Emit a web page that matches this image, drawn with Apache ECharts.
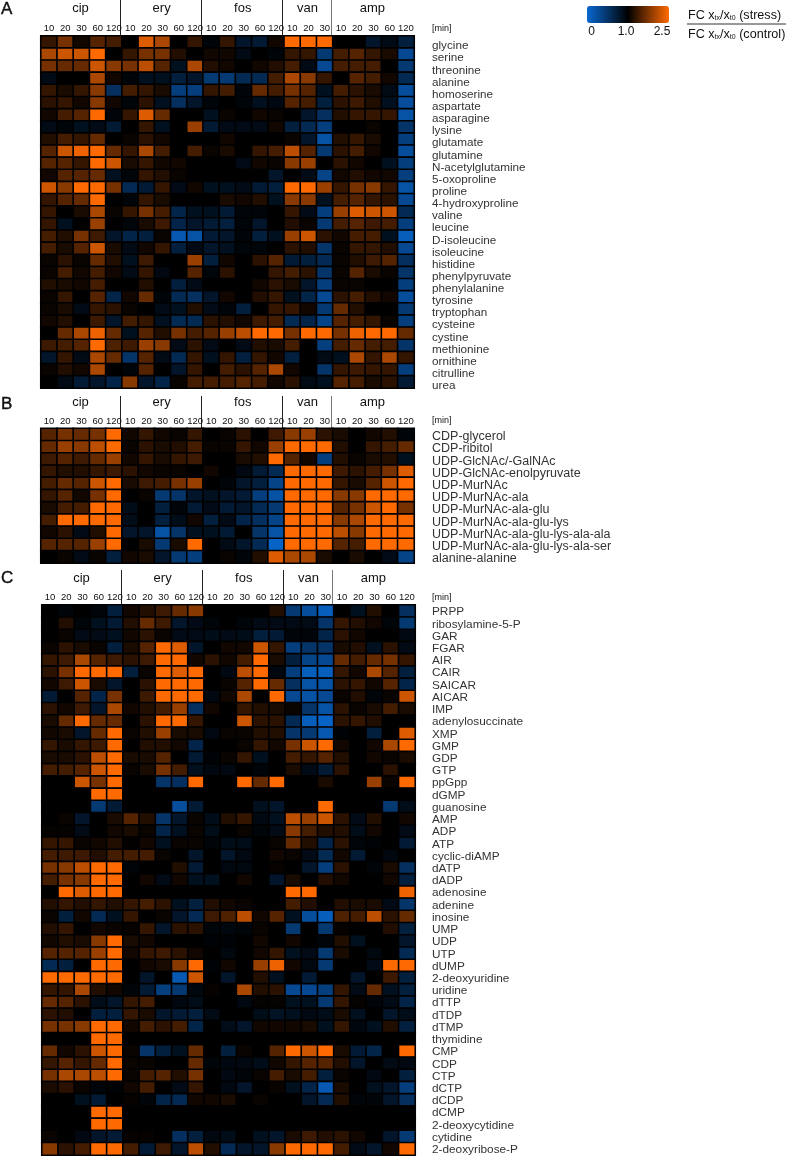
<!DOCTYPE html>
<html>
<head>
<meta charset="utf-8">
<title>heatmap</title>
<script src="https://cdn.jsdelivr.net/npm/echarts@6/dist/echarts.min.js"></script>
<style>
html,body{margin:0;padding:0;background:#fff;}
#chart{width:787px;height:1156px;}
</style>
</head>
<body>
<div id="chart"></div>
<script>
var groups = ['cip','ery','fos','van','amp'];
var groupCols = [5,5,5,3,5];
var minutes = ['10','20','30','60','120','10','20','30','60','120','10','20','30','60','120','10','20','30','10','20','30','60','120'];

var labelsA = ['glycine','serine','threonine','alanine','homoserine','aspartate','asparagine','lysine','glutamate','glutamine','N-acetylglutamine','5-oxoproline','proline','4-hydroxyproline','valine','leucine','D-isoleucine','isoleucine','histidine','phenylpyruvate','phenylalanine','tyrosine','tryptophan','cysteine','cystine','methionine','ornithine','citrulline','urea'];
var labelsB = ['CDP-glycerol','CDP-ribitol','UDP-GlcNAc/-GalNAc','UDP-GlcNAc-enolpyruvate','UDP-MurNAc','UDP-MurNAc-ala','UDP-MurNAc-ala-glu','UDP-MurNAc-ala-glu-lys','UDP-MurNAc-ala-glu-lys-ala-ala','UDP-MurNAc-ala-glu-lys-ala-ser','alanine-alanine'];
var labelsC = ['PRPP','ribosylamine-5-P','GAR','FGAR','AIR','CAIR','SAICAR','AICAR','IMP','adenylosuccinate','XMP','GMP','GDP','GTP','ppGpp','dGMP','guanosine','AMP','ADP','ATP','cyclic-diAMP','dATP','dADP','adenosine','adenine','inosine','UMP','UDP','UTP','dUMP','2-deoxyuridine','uridine','dTTP','dTDP','dTMP','thymidine','CMP','CDP','CTP','dCTP','dCDP','dCMP','2-deoxycytidine','cytidine','2-deoxyribose-P'];

// fold change per row : cip | ery | fos | van | amp
var valuesA = [
[1.3,1.7,1.1,1.5,1.4, 1,2.3,2,1,1.3, .95,1.3,.8,.75,1.1, 2.5,2.5,2.5, 1,1,.8,.9,.7],
[2,2.2,2.2,2.5,1, 1.3,1.7,1.7,1.2,1, 1.1,1.1,.9,1,.95, 1.3,1.3,.45, 1.4,1.5,1.3,1.15,.3],
[1.7,1.6,1.6,2.2,1.8, 1.7,2.1,1.5,.85,2, 1.2,1.1,1,1.1,1.2, 1.4,.9,.3, 1.4,1.4,1.4,1,.45],
[.9,1,1,2,1.1, .95,.85,.85,.7,.8, .45,.45,.6,.6,1.4, 2,1.8,1.3, 1,1.5,1.4,1.1,.6],
[1.3,1.15,1.3,1.8,.55, 1.4,1.3,1.15,.4,.4, 1.3,1.4,.95,1.6,1.4, 1.7,1.5,.85, 1.4,1.25,1.15,.9,.25],
[1.25,1.3,1.1,1.8,1.1, .95,1.25,.85,.55,.8, .95,1,.95,.85,.92, 1.5,1.4,.7, 1.25,1.35,1.2,.85,.25],
[1.1,1.4,1.5,2.5,.95, 1.3,2.3,1.6,1,1, .85,1.05,1,1.1,1.05, 1,.8,.55, 1.2,1.3,1.3,1.3,.2],
[.9,.95,.85,.9,.75, 1,1.3,.85,1,1.9, .75,.9,.9,.9,1.1, .7,.6,.4, 1,1,1.05,1,.5],
[1.2,1.4,1.3,1.6,1, 1.05,1.25,1.1,1,1, 1,1.1,1,1,1, 1.05,.8,.2, 1.2,1.3,1.15,1,.4],
[1.5,2.2,2.4,2.5,1.6, 1.3,2,1.4,1,1.4, 1.05,1.15,1,1.3,1.4, 2.1,1.5,.45, 1.25,1.4,1.1,1,.25],
[1.5,1.5,1.3,2.5,2.2, 1.15,1.3,1.1,1.1,1, 1,1,.9,1.1,1.05, 1.8,1.9,1, 1.25,1.1,1,.85,.4],
[1.1,1.5,1.5,1.6,.85, .95,1.3,1.2,1.05,1, 1,1,1,1,.8, 1,.9,.35, 1.1,1.2,1.1,1.1,.4],
[2.2,1.8,2.5,2.5,1.7, .6,.75,1.3,.9,1.1, .85,.85,.9,.75,.7, 2.5,2.5,1.9, 1.3,1.7,1.8,1.3,.2],
[1.3,1.5,1.6,2.5,1, .95,1.3,1.15,1,1, 1,1.15,1.1,1.2,.85, 1.8,1.8,.85, 1.4,1.5,1.3,1.25,.3],
[1.3,1,1.15,2,1.05, 1.3,1.7,1.4,.65,.85, .85,.75,.95,.95,1, 1.3,.9,.4, 1.9,2.3,2.2,2.2,.6],
[1.3,.85,1,1.9,1, .95,1.15,1.35,.65,.8, .75,.7,.95,.8,1, 1.2,1.05,.45, 1.4,1.5,1.35,1.4,.4],
[1.4,1.2,1.7,1.35,.8, .65,.7,1.05,.15,.2, .75,.8,.95,.7,.85, 1.9,2.2,1.25, 1.1,1.4,1.4,.85,.1],
[1.4,1.15,1.5,2.2,1.15, .9,1.1,1.3,.7,.9, .8,.85,.95,.95,1, 1.25,1.2,.5, 1.05,1.3,1.3,1.2,.3],
[1.05,1.25,1.05,1.6,1.2, .85,1.35,1,1,1.9, .7,1.1,1,1.25,1.5, .75,.7,.6, 1.05,1.2,1.35,1.5,.55],
[1.05,1.4,1.1,1.4,1.1, .9,1.3,.92,1,1.5, .95,1.25,1,1,1.3, 1.4,1.25,.5, 1.05,1.5,1.15,1.05,.5],
[1.2,1.15,1.1,1.4,1, 1,1.2,1,.7,.9, 1,1,1,1.1,1.25, 1.15,.8,.4, 1.05,1.05,1,1,.4],
[1.05,1.3,1,1.5,.65, 1.1,1.6,.95,.6,.55, .8,1.1,1,1.2,1.3, .85,.65,.3, 1.25,1.4,1.2,1.1,.25],
[1.05,1.15,.9,1.3,1.25, 1.05,1,.9,.85,1.2, .9,.95,.7,1,1.3, 1.3,1.1,.45, 1.6,1.2,1,1,.45],
[1.1,1.2,1,1.35,.8, 1.4,1.3,.85,.6,.6, 1.25,1.2,1.1,1.35,1.4, .6,.65,.35, 1.5,1.4,1.3,1.05,.4],
[1,1.6,2,2.4,1.6, .85,1.5,1.2,1.7,1.4, 1.5,1.9,2.1,2.5,2.5, 1.7,2.5,2.5, 1.7,2.4,2.5,2.5,1.6],
[1.35,1.4,1.5,2.5,1.45, 1.35,1.9,1.8,.9,1.25, .9,1,.9,1.2,1.15, 1.4,1,.4, 1.4,1.6,1.4,1.4,.5],
[.8,1.3,.9,2,1.6, .5,1.5,.9,.6,1.3, .85,1.3,.7,1.3,1.1, .7,1,.9, .85,2,1.3,2,1.3],
[1.05,1.2,1.1,2,1, .95,1.5,1,.8,1.3, 1,1.4,1.25,1.5,2, 1.1,1,.5, 1.3,1.35,1.3,1.3,.4],
[1,.9,.75,.8,.65, 1.8,.8,.65,1.05,1.4, 1.4,1.4,1.5,1.4,1.1, 1.25,.9,.85, 1.5,1.4,1.15,1.25,.75]
];
var valuesB = [
[1.5,1.7,1.6,1.7,2.5, 1.1,1.3,1.1,1.05,1.3, 1,1.05,1.25,1,1.35, 1.8,1.9,1.25, 1.15,1,1.1,1.2,.95],
[1.6,1.9,1.8,2.1,2.5, 1.05,1.25,1.15,1.2,1.4, 1.05,1.05,1.3,1.1,1.9, 2.5,2.5,2.5, 1.2,1,1.3,1.4,1.6],
[1.35,1.5,1.35,1.6,1.9, 1.1,1.3,1.15,1.3,1.35, 1,1,1.15,1.2,2.5, 1.5,1.1,.4, 1.2,1.05,1.15,1.2,.85],
[1.3,1.2,1.2,1.3,1.35, 1.25,1.1,1.05,1.05,1, 1.1,1,.92,.75,.6, 2.5,2.5,2.5, 1.35,1.25,1.4,1.7,2.3],
[1.4,1.6,1.5,2.2,2.5, 1.15,1.35,1.4,1.7,1.9, 1,.95,.8,.7,.35, 2.5,2.5,2.5, 1.3,1.15,1.5,2.2,2.5],
[1.3,1.5,1.1,1.7,2.5, 1,1.05,.45,.5,.8, .85,.8,.75,.4,.2, 2.5,2.5,2.5, 1.8,1.8,2.5,2.5,2.5],
[1.15,1.4,1.4,2.5,2.5, .88,1,.7,.95,.75, .9,.75,.8,.6,.45, 2.5,2.5,2.5, 1.5,1.7,2.2,2.5,1.7],
[1.4,2.5,2.5,2.5,2.5, .88,1,.7,.88,1.1, .7,.9,.65,.55,.35, 2.5,2.5,2.5, 1.8,2,2.5,2.5,2.5],
[1.1,1.25,.9,1.2,2.5, .8,.8,.2,.5,.85, .85,.75,1,.5,.2, 2.5,2.5,2.5, 2.1,1.8,2.5,2.5,2.5],
[1.5,1.5,1.5,1.9,2.5, 1,1.15,.45,1.15,2.5, 1,.9,.8,.6,.05, 2.5,2.5,2.5, 1.5,1.4,2.5,2.5,2.5],
[1,1.05,.9,1.05,.7, 1.1,1.15,.8,.45,.4, 1,1.05,.95,1.2,2.3, 2,2,1.15, 1,1.15,1,.9,.35]
];
var valuesC = [
[1,.95,1,.95,.7, 1.1,1.2,1.35,1.6,1.8, 1,1,1,1,1.2, .45,.25,.1, 1,.85,1.2,1,.55],
[1,1.2,.95,.85,.75, 1.2,1.6,1.35,.8,.9, .95,1,.95,.9,.9, .9,.9,.5, 1.3,1.2,1.1,.95,.45],
[1,1.05,.9,.9,.85, 1.1,1.25,1.05,.9,.9, .88,.9,.88,.7,.75, .95,.95,.65, 1.25,1.1,1,1,.92],
[1.05,1.25,1.15,1.05,.7, 1.15,1.5,2.5,2.3,.8, 1,1.1,1.1,2.2,1.3, .4,.5,.5, 1.15,1.2,.85,1.25,.9],
[1.3,1.35,2,1.5,1.35, 1.25,1.35,2.5,2.5,1.1, 1.25,1.1,1.4,2.5,1.15, .7,.35,.3, 1.6,1.4,1.6,1.7,1.3],
[1.25,1.7,2.5,2.5,2.5, .7,1.05,2.5,2.3,2.5, 1,.92,2.1,2.5,.93, .4,.1,.1, 1.3,1.1,2,1.5,.7],
[1.1,1.35,2.2,1.15,.8, 1,1.25,2.5,2.5,2.5, 1,1.05,1.5,2.5,1.6, .55,.2,.2, 1.25,1.3,1.1,1.5,.65],
[.75,1,1.5,.65,1.7, 1,1.35,2.5,2.5,2.5, .93,1.1,2,1,2.5, .3,.2,.3, 1.05,1.2,.95,1.05,2.2],
[1.25,1.1,1.35,.8,2, 1.1,1.2,1.4,1.9,.55, 1.1,1,1.3,1.2,1.15, 1.05,.5,.2, 1.25,1.05,1.15,1.4,1.15],
[1.15,1.6,2.5,1.6,1.6, 1,1.25,2.5,2.5,1.3, 1,1,2.2,1.25,1.25, .6,.1,.05, 1.25,1.3,1.2,1,1],
[1.1,1.15,.8,1.6,2.5, 1.05,1.2,1.9,1.15,1.15, .92,1.05,1.05,1.2,1.2, .5,.45,.15, .97,1,.7,1,2.3],
[1.3,1.15,1.3,1.35,2.5, 1,1.2,1.2,1.1,.65, 1,1,1.05,1.3,1.1, 1.7,2.2,2.5, 1.1,1,1.1,2,2.5],
[1.15,1.15,1.25,2.1,2.5, 1.15,1.15,1.5,1,.75, .97,1.05,1.3,.85,1, 1.4,1.3,1.5, 1.2,1,1.1,1.05,1.15],
[1.4,1.4,1.5,2.2,2.5, 1.05,1.15,1.7,1.4,.85, .93,.92,1,.95,1, 1.15,.9,.75, 1.25,1,1,1.25,1],
[1,1,2.2,1.7,2.5, 1,1,.5,.55,2.5, 1,1,2.5,1.6,2.5, 1,1,1.15, 1,1,1.9,1.05,2.5],
[1,1,1,2.5,2.5, 1,1,1,1,1, 1,1,1,1,1, 1,1,1, 1,1,1,1,1],
[1,1,1,.45,.75, 1,1,1,.25,.75, 1,1,1,.85,.8, 1,1,2.5, 1,1,1,.45,.88],
[1,1.05,.8,1,1.15, 1.5,1.2,.5,.8,1.05, .88,1.2,1.3,.92,.85, 2.1,1.9,2.2, 1.25,.9,1.2,1,1.1],
[1.03,1.03,.9,1,1.1, 1.15,1.05,.65,.85,1.05, .88,1,1.05,.95,.9, 1.8,1.4,1.2, 1.2,.88,1.1,1,.9],
[1.3,1.3,1.05,1.1,1.2, 1.02,1.1,.85,1.05,1.05, .95,.88,.88,1,1.05, 1.6,1.2,.65, 1.25,.95,.97,1,.75],
[1.4,1.35,1.35,1.2,1.4, 1.4,1.4,1.05,1,.8, 1,.8,.92,1,1.1, 1.05,.9,.6, 1.1,.75,1,.93,1],
[1.7,1.8,2.1,2.5,2.5, .95,1,1,1.2,.75, 1,.93,.93,1,1.03, 1,.8,.4, 1.25,1,.95,1.15,.55],
[1.4,1.7,1.8,2.5,2.5, 1,1.1,.9,1.1,.85, .85,1,1.1,1,.8, 1.15,1,1.2, 1.1,1,1,1.1,.7],
[1,2.5,2.3,2.5,2.5, 1,1,1,1,1, 1,1,1,1,1, 2.5,2.5,1, 1,1,1,1,2.4],
[1.2,1.3,1.2,1.3,1.2, 1.3,1.4,1.25,.85,.7, 1.2,1.1,1.05,1,1, 1.4,1.2,1, 1.2,1.15,1.15,.9,.5],
[1.05,.7,1.1,.6,.85, 1.3,1,1.05,.8,.6, 1.35,1.45,2.1,1.1,1.5, .85,.25,.1, 1.45,1.4,2.1,1.25,1.6],
[1.2,1.3,1,1.1,1.05, 1.03,1.3,.8,1.25,1.25, .95,.93,.95,1.05,1, .45,1,.45, 1.03,1,1,1.2,.7],
[1.1,1.2,1.15,1.8,2.5, 1.15,1.1,1,1,1, .97,.97,1,1.1,1, 1.1,1,.95, 1.2,.85,1,1,.8],
[1.5,1.5,1.5,1.9,2.5, 1.1,1.3,1.35,1.25,1.1, 1,.93,1,1.1,1.3, .85,.9,.45, 1.15,1,.93,1,.6],
[.6,.7,1,2.5,2.5, 1,1.1,1.15,1.8,2.5, .97,1.1,1,1.9,2.4, 1.1,.93,.45, 1,1,.9,2.5,2.5],
[2.5,2.5,2.5,2.5,2.5, 1,.8,1,.15,2.2, 1,.8,1,1.2,.85, 1,.75,1, 1,.8,1,1.35,.7],
[1.3,1.3,2,1.2,1.1, .95,.75,.4,.45,.93, 1.03,1,2,1.2,1.25, .3,.3,.4, 1.3,.9,1.6,.85,.7],
[1.6,1.5,1.25,.88,.8, 1.3,1.4,1,.93,.88, 1,1,.92,1.03,1.03, .85,.85,.45, 1.3,1.03,.95,.9,.65],
[1.25,1.2,1,.7,.7, 1.3,1.15,.8,.75,.7, .9,1,1,.88,.82, .85,.92,.88, 1.15,.85,1,.8,.88],
[1.7,1.7,1.8,2.5,2.5, 1.1,1.4,1.25,1.4,.65, 1,.88,.8,1.1,1.1, 1.1,1.15,.85, 1.3,.93,.85,1.2,.7],
[1,1,1,2.5,2.5, 1,1,1,1,1, 1,1,1,1,1, 1,1,1, 1,1,1,1,1],
[1.6,1.1,1.25,2.2,2.5, 1.05,.5,.7,.85,1.6, 1,.7,1.05,1,1.5, 2.5,2.2,2.5, 1.15,.75,.65,1,2.5],
[1.3,1.5,1.3,1.6,2.5, 1.05,1.05,1,1,1.6, .95,.93,.92,.88,1.1, 1.3,1.5,1.5, 1.2,.8,1,.9,.92],
[1.7,2,2,2.1,2.5, 1.05,1.4,1.5,1.2,1.7, 1,.92,.95,1.05,1.4, 1.15,1.4,.7, 1.05,1,.92,1,.7],
[1.15,1.25,1.05,.95,.97, 1.1,1.4,1,.9,1.3, 1,.92,.8,1,1.05, .85,.65,.15, 1.15,1,.85,.8,.4],
[1,1,.85,.75,1, 1.03,.95,.65,.6,1.1, 1.1,1.15,1,1.05,1, 1,.8,.6, 1.2,.95,.95,.8,.55],
[1,1,1,2.5,2.5, 1,1,1,1,1, 1,1,1,1,1, 1,1,1, 1,1,1,1,1],
[1,1,1,2.5,2.5, 1,1,1,1,1, 1,1,1,1,1, 1,1,1, 1,1,1,1,1],
[1.05,1,.92,.8,.75, 1.03,1.03,1,.55,.7, .93,.88,1,.85,.8, 1.15,1.35,1.2, 1.25,1.1,1,.8,.45],
[1.8,1.25,1.4,2.5,2.5, 1.4,.75,1.35,.8,2.1, 1.2,.6,.8,.8,1.8, 2.5,2.5,2.5, 1.4,.9,.8,1.1,2.5]
];

// panels : letter, rows, where the header sits
var panels = [
  {letter:'A', labels:labelsA, values:valuesA, left:41, top:36, height:352, letterY:9, groupY:8, sepTop:0, labelFont:11.7, labelLH:8, tickMargin:3},
  {letter:'B', labels:labelsB, values:valuesB, left:41, top:428.5, height:134.5, letterY:404, groupY:402.5, sepTop:396, labelFont:12.5, labelLH:4, tickMargin:2},
  {letter:'C', labels:labelsC, values:valuesC, left:42, top:605, height:550, letterY:578, groupY:578, sepTop:570, labelFont:11.8, labelLH:2, tickMargin:3}
];
var gridWidth = 373;
var fontName = '"Liberation Sans", Arial, sans-serif';

// the colour scale is blue-black below 1.0 and black-orange above it
function toScale(fc){
  return fc < 1 ? fc - 1 : (fc - 1) / 1.5;
}

var grids = [], xAxes = [], yAxes = [], series = [], graphics = [];

for(var p = 0; p < panels.length; p++){
  var pan = panels[p];
  grids.push({left:pan.left, top:pan.top, width:gridWidth, height:pan.height, show:true, backgroundColor:'#000', borderColor:'#666', borderWidth:1});
  xAxes.push({
    type:'category', gridIndex:p, position:'top', data:minutes,
    axisLine:{show:false}, axisTick:{show:false}, splitLine:{show:false},
    axisLabel:{interval:0, fontSize:9.5, color:'#111', margin:pan.tickMargin, fontFamily:fontName, hideOverlap:false}
  });
  yAxes.push({
    type:'category', gridIndex:p, position:'right', inverse:true, data:pan.labels,
    axisLine:{show:false}, axisTick:{show:false}, splitLine:{show:false},
    axisLabel:{interval:0, fontSize:pan.labelFont, color:'#333', margin:432 - pan.left - gridWidth, fontFamily:fontName, verticalAlign:'top', lineHeight:pan.labelLH, hideOverlap:false}
  });

  var cells = [];
  for(var r = 0; r < pan.values.length; r++){
    for(var c = 0; c < pan.values[r].length; c++){
      cells.push([c, r, pan.values[r][c], toScale(pan.values[r][c])]);
    }
  }
  series.push({
    type:'heatmap', xAxisIndex:p, yAxisIndex:p, data:cells,
    encode:{x:0, y:1, value:3},
    itemStyle:{borderColor:'#000', borderWidth:1.6},
    emphasis:{disabled:true}, silent:true
  });

  // header : panel letter, group names, separators
  graphics.push({type:'text', x:1, y:pan.letterY, style:{text:pan.letter, font:'17px ' + fontName, fill:'#111', verticalAlign:'middle', stroke:'#111', lineWidth:0.4}});
  graphics.push({type:'text', left:432, top:pan.top - 12, style:{text:'[min]', font:'9px ' + fontName, fill:'#111'}});
  var colW = gridWidth / 23, start = 0;
  for(var g = 0; g < groups.length; g++){
    var mid = pan.left + (start + groupCols[g] / 2) * colW - 1;
    graphics.push({type:'text', x:mid, y:pan.groupY, style:{text:groups[g], font:'13px ' + fontName, fill:'#111', align:'center', verticalAlign:'middle'}});
    start += groupCols[g];
    if(g < groups.length - 1){
      var sx = Math.round(pan.left + start * colW) - 1.5;
      graphics.push({type:'line', shape:{x1:sx, y1:pan.sepTop, x2:sx, y2:pan.top}, style:{stroke:g == 3 ? '#777' : '#222', lineWidth:1}});
    }
  }
}

// legend captions
var subs = {t:{fontSize:7, verticalAlign:'bottom', padding:[6,0,0,0], fill:'#111', fontFamily:fontName}};
var legendLabels = [['0',591.5],['1.0',626],['2.5',662]];
for(var k = 0; k < legendLabels.length; k++){
  graphics.push({type:'text', x:legendLabels[k][1], y:32, style:{text:legendLabels[k][0], font:'12px ' + fontName, fill:'#111', align:'center', verticalAlign:'middle'}});
}
graphics.push({type:'text', left:688, top:9, style:{rich:subs, text:'FC x{t|tx}/x{t|t0} (stress)', font:'12.6px ' + fontName, fill:'#111'}});
graphics.push({type:'line', shape:{x1:687, y1:24, x2:786, y2:24}, style:{stroke:'#333', lineWidth:1}});
graphics.push({type:'text', left:688, top:28, style:{rich:subs, text:'FC x{t|tx}/x{t|t0} (control)', font:'12.6px ' + fontName, fill:'#111'}});

var chart = echarts.init(document.getElementById('chart'), null, {renderer:'canvas'});
chart.setOption({
  animation:false,
  backgroundColor:'#fff',
  textStyle:{fontFamily:fontName},
  grid:grids,
  xAxis:xAxes,
  yAxis:yAxes,
  visualMap:{
    type:'continuous', min:-1, max:1, dimension:3, seriesIndex:[0,1,2],
    orient:'horizontal', left:587, top:6, itemWidth:17, itemHeight:82,
    calculable:false, realtime:false, text:null, showLabel:false, padding:0,
    inRange:{color:['#0868d0','#000000','#ff6a00']},
    formatter:function(){ return ''; }
  },
  series:series,
  graphic:{elements:graphics}
});
</script>
</body>
</html>
